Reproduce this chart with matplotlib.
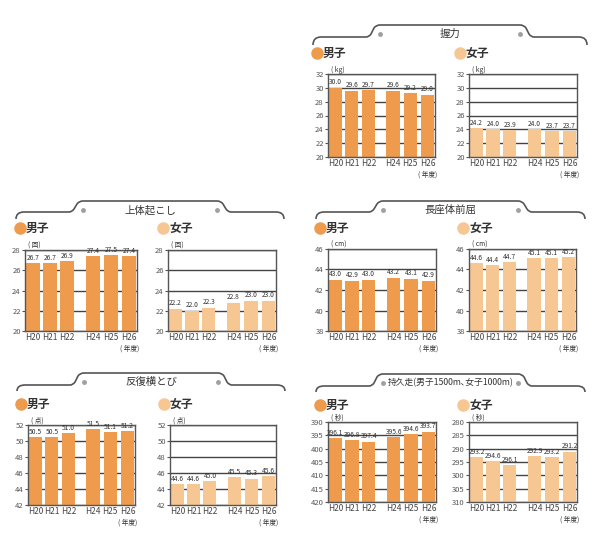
import matplotlib.pyplot as plt
from matplotlib.path import Path
from matplotlib.patches import PathPatch

plt.rcParams['font.family'] = ['Noto Sans CJK JP', 'DejaVu Sans']

# data
years = ['H20', 'H21', 'H22', 'H24', 'H25', 'H26']

grip_male = [30.0, 29.6, 29.7, 29.6, 29.2, 29.0]
grip_female = [24.2, 24.0, 23.9, 24.0, 23.7, 23.7]

situp_male = [26.7, 26.7, 26.9, 27.4, 27.5, 27.4]
situp_female = [22.2, 22.0, 22.3, 22.8, 23.0, 23.0]

reach_male = [43.0, 42.9, 43.0, 43.2, 43.1, 42.9]
reach_female = [44.6, 44.4, 44.7, 45.1, 45.1, 45.2]

step_male = [50.5, 50.5, 51.0, 51.5, 51.1, 51.2]
step_female = [44.6, 44.6, 45.0, 45.5, 45.3, 45.6]

run_male = [396.1, 396.8, 397.4, 395.6, 394.6, 393.7]
run_female = [293.2, 294.6, 296.1, 292.9, 293.2, 291.2]

W, H = 604, 541
male_color = '#EF9B4E'
female_color = '#F7C793'
line_color = '#555555'
xpos = [0, 1, 2, 3.5, 4.55, 5.6]

fig = plt.figure(figsize=(W / 100, H / 100), dpi=100)
bg = fig.add_axes([0, 0, 1, 1])
bg.set_xlim(0, W)
bg.set_ylim(H, 0)
bg.axis('off')


def header(L, R, yt, yb, ye, title, yl, tsize=7.5):
    verts = [(L, ye), (L, yb), (L + 8, yb), (L + 53, yb), (L + 56, yb), (L + 58, yb - 3),
             (L + 61, yt + 3), (L + 63, yt), (L + 67, yt), (R - 67, yt), (R - 63, yt),
             (R - 61, yt + 3), (R - 58, yb - 3), (R - 56, yb), (R - 53, yb), (R - 8, yb),
             (R, yb), (R, ye)]
    codes = [Path.MOVETO, Path.CURVE3, Path.CURVE3, Path.LINETO, Path.CURVE3, Path.CURVE3,
             Path.LINETO, Path.CURVE3, Path.CURVE3, Path.LINETO, Path.CURVE3, Path.CURVE3,
             Path.LINETO, Path.CURVE3, Path.CURVE3, Path.LINETO, Path.CURVE3, Path.CURVE3]
    bg.add_patch(PathPatch(Path(verts, codes), fill=False, edgecolor=line_color, lw=1.2))
    bg.plot([L + 67, R - 67], [yt + 9, yt + 9], 'o', color='#a0a0a0', ms=2.5)
    bg.text((L + R) / 2, yt + 9, title, ha='center', va='center', fontsize=tsize, color='#333333')
    # legend
    bg.plot(L + 4, yl, 'o', color=male_color, ms=8)
    bg.text(L + 10, yl, '男子', ha='left', va='center', fontsize=8.5, fontweight='bold', color='#333333')
    bg.plot(L + 147, yl, 'o', color=female_color, ms=8)
    bg.text(L + 153, yl, '女子', ha='left', va='center', fontsize=8.5, fontweight='bold', color='#333333')


def panel(rect, vals, color, ylim, yticks, unit):
    l, r, t, b = rect
    ax = fig.add_axes([l / W, 1 - b / H, (r - l) / W, (b - t) / H])
    base = ylim[0]
    ax.bar(xpos, [v - base for v in vals], bottom=base, width=0.8, color=color, zorder=2)
    ax.set_ylim(ylim)
    ax.set_xlim(-0.45, 6.05)
    ax.set_yticks(yticks)
    ax.set_yticklabels([str(v) for v in yticks])
    ax.set_xticks(xpos)
    ax.set_xticklabels(years)
    ax.grid(axis='y', color='#444444', lw=1.0)
    ax.set_axisbelow(True)
    ax.tick_params(axis='y', length=2, pad=1, labelsize=5.5, colors='#555555')
    ax.tick_params(axis='x', length=0, pad=1.5, labelsize=6, colors='#444444')
    for s in ax.spines.values():
        s.set_color(line_color)
        s.set_linewidth(1.0)
    for x, v in zip(xpos, vals):
        ax.annotate(f'{v:.1f}', (x, v), xytext=(0, 1), textcoords='offset points',
                    ha='center', va='bottom', fontsize=4.8, color='#333333', zorder=3)
    ax.text(0.03, 1.0, unit, transform=ax.transAxes, ha='left', va='bottom', fontsize=4.8,
            color='#333333')
    ax.annotate('( 年度)', (xpos[-1], 0), xycoords=('data', 'axes fraction'), xytext=(0, -10),
                textcoords='offset points', ha='center', va='top', fontsize=4.8, color='#333333')
    return ax


# 握力
header(313, 587, 25, 37, 45, '握力', 53)
panel((328, 435, 74, 157), grip_male, male_color, (20, 32), [20, 22, 24, 26, 28, 30, 32], '( kg)')
panel((469, 577, 74, 157), grip_female, female_color, (20, 32), [20, 22, 24, 26, 28, 30, 32], '( kg)')

# 上体起こし
header(16, 284, 201, 212, 219, '上体起こし', 228)
panel((25, 137, 250, 331), situp_male, male_color, (20, 28), [20, 22, 24, 26, 28], '( 回)')
panel((168, 276, 250, 331), situp_female, female_color, (20, 28), [20, 22, 24, 26, 28], '( 回)')

# 長座体前屈
header(316, 585, 201, 212, 219, '長座体前屈', 228)
panel((328, 436, 249, 331), reach_male, male_color, (38, 46), [38, 40, 42, 44, 46], '( cm)')
panel((469, 576, 249, 331), reach_female, female_color, (38, 46), [38, 40, 42, 44, 46], '( cm)')

# 反復横とび
header(17, 285, 373, 385, 391, '反復横とび', 404)
panel((28, 135, 425, 505), step_male, male_color, (42, 52), [42, 44, 46, 48, 50, 52], '( 点)')
panel((170, 276, 425, 505), step_female, female_color, (42, 52), [42, 44, 46, 48, 50, 52], '( 点)')

# 持久走
header(316, 585, 374, 386, 392, '持久走(男子1500m､女子1000m)', 405, tsize=6.3)
panel((328, 436, 422, 502), run_male, male_color, (420, 390),
      [390, 395, 400, 405, 410, 415, 420], '( 秒)')
panel((469, 577, 422, 502), run_female, female_color, (310, 280),
      [280, 285, 290, 295, 300, 305, 310], '( 秒)')

fig.savefig('out.png', dpi=100, facecolor='white')
